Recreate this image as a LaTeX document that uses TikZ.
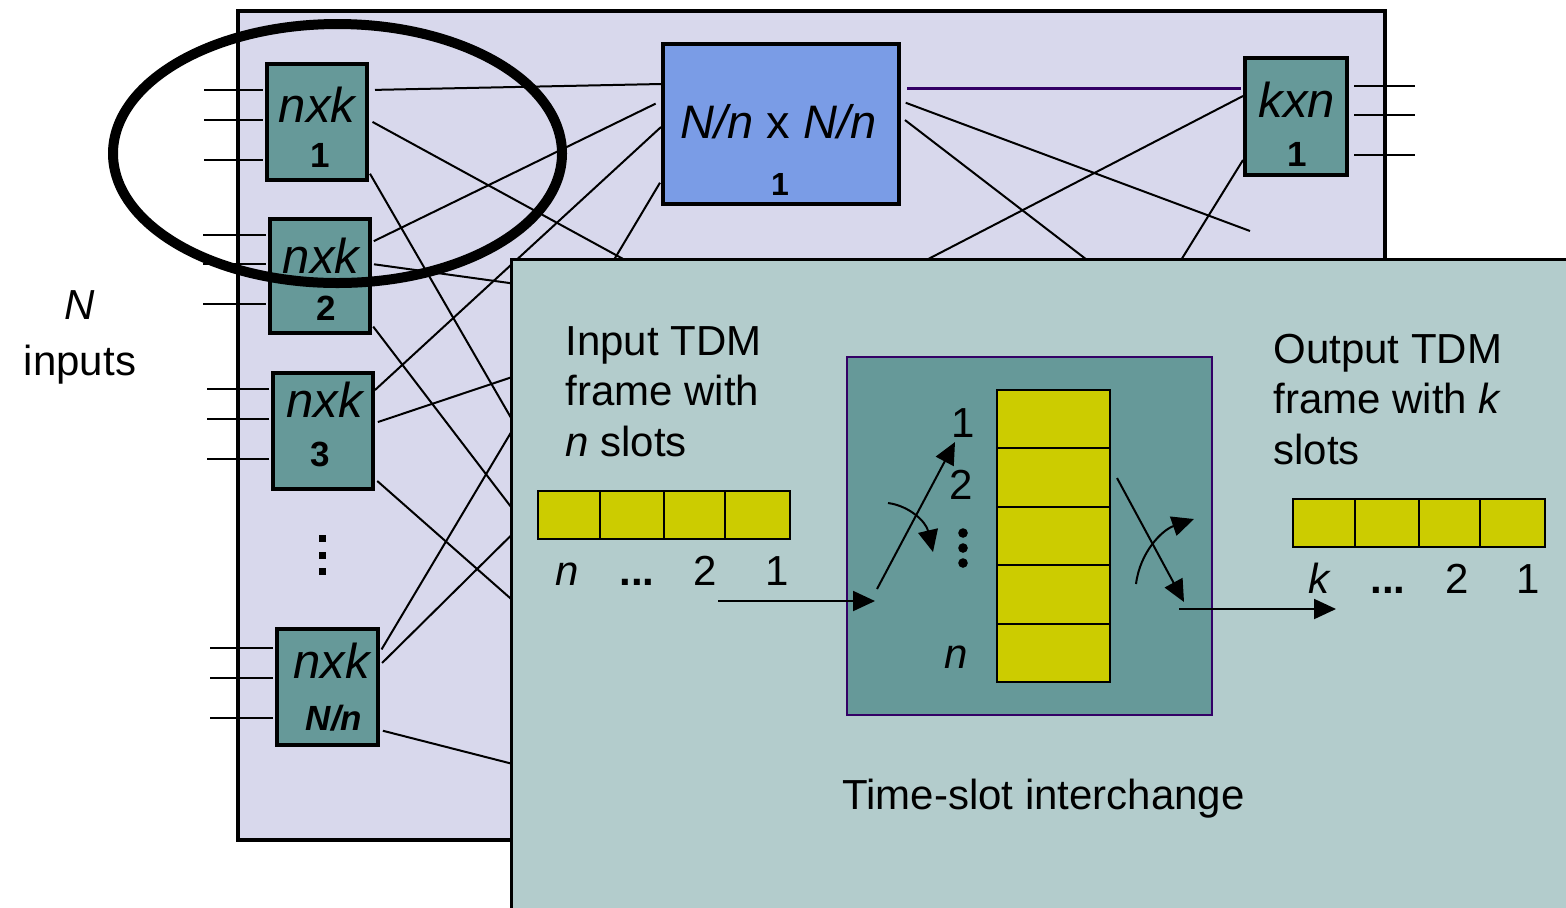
\documentclass[tikz,border=0pt]{standalone}
\usepackage{fontspec}
\setmainfont{Liberation Sans}
\usetikzlibrary{arrows.meta,calc,shapes.geometric}
\definecolor{lav}{RGB}{216,216,236}
\definecolor{tealbox}{RGB}{102,153,153}
\definecolor{blu}{RGB}{122,156,230}
\definecolor{ovl}{RGB}{179,204,204}
\definecolor{ylw}{RGB}{204,204,0}
\definecolor{purp}{RGB}{51,0,102}
\begin{document}
\begin{tikzpicture}[x=0.5pt,y=-0.5pt,
  sbox/.style={draw=black,line width=2pt,fill=tealbox,inner sep=0pt,minimum width=50pt,minimum height=58pt},
  wire/.style={line width=1pt},
  big/.style={font=\fontsize{21pt}{25pt}\selectfont,inner sep=0pt},
  lbl/.style={font=\fontsize{24.5pt}{28pt}\selectfont\itshape,inner sep=0pt,anchor=base},
  num/.style={font=\fontsize{17.5pt}{20pt}\selectfont\bfseries,inner sep=0pt,anchor=base},
  cell/.style={draw=black,line width=1pt,fill=ylw,inner sep=0pt},
  arr/.style={line width=1pt,-{Triangle[length=11pt,width=10pt]}},
]
\useasboundingbox (0,0) rectangle (1566,907);
\clip (0,0) rectangle (1566,907);

% outer frame
\node[draw=black,line width=2pt,fill=lav,minimum width=573.5pt,minimum height=414.5pt,inner sep=0pt] (frame) at (811.5,425.5) {};

% switch boxes
\node[sbox] (b1) at (317,122) {};
\node[sbox,minimum height=57pt] (b2) at (320,276) {};
\node[sbox] (b3) at (323,431) {};
\node[sbox,minimum width=50.5pt] (bN) at (327.5,687) {};
\node[draw=black,line width=2pt,fill=blu,inner sep=0pt,minimum width=118pt,minimum height=80pt] (mid) at (781,124) {};
\node[sbox,minimum width=51pt,minimum height=58.5pt] (kxn) at (1296,116.5) {};

% box labels
\node[lbl] (b1t) at (317,122) {nxk};
\node[num] (b1n) at (320,167) {1};
\node[lbl] (b2t) at (321,273) {nxk};
\node[num] (b2n) at (326,320) {2};
\node[lbl] (b3t) at (324.5,417) {nxk};
\node[num] (b3n) at (320,466) {3};
\node[lbl] (bNt) at (331.5,678) {nxk};
\node[num,font=\fontsize{17.5pt}{20pt}\selectfont\bfseries\itshape] (bNn) at (334,730) {N/n};
\node[lbl] (kxnt) at (1297,117) {kxn};
\node[num] (kxnn) at (1297,166) {1};
\node[inner sep=0pt,anchor=base,font=\fontsize{23.5pt}{28pt}\selectfont] (midt) at (778.5,138) {\textit{N/n} x \textit{N/n}};
\node[num,font=\fontsize{16pt}{20pt}\selectfont\bfseries] (midn) at (780,195) {1};

% vertical dots between input switches
\foreach \y [count=\i] in {538,555,571}
  \fill (318.5,\y-3.5) rectangle (325.5,\y+3.5);

% hidden / free ends
\coordinate (h1) at (700,301);
\coordinate (h2) at (540,468);
\coordinate (h3) at (560,290);
\coordinate (h4) at (560,571);
\coordinate (h5) at (560,361);
\coordinate (h6) at (560,642);
\coordinate (h7) at (560,487);
\coordinate (h8) at (560,776);
\coordinate (fr) at (1250,231);
\coordinate (h9) at (1130,293);
\coordinate (h10) at (880,284);
\coordinate (h11) at (1160,294);

% interconnection wires
\draw[wire,shorten <=3pt] (b1.east |- 0,90) -- (mid.west |- 0,84);
\draw[wire,shorten <=2pt] (b1.east |- 0,120) -- (h1);
\draw[wire,shorten <=1pt] (b1.east |- 0,172) -- (h2);
\draw[wire,shorten <=1pt,shorten >=3pt] (b2.east |- 0,242) -- (mid.west |- 0,101);
\draw[wire,shorten <=1pt] (b2.east |- 0,264) -- (h3);
\draw[wire,shorten <=1pt] (b2.east |- 0,325) -- (h4);
\draw[wire] (b3.east |- 0,390) -- (mid.west |- 0,127);
\draw[wire,shorten <=1.5pt] (b3.east |- 0,423) -- (h5);
\draw[wire,shorten <=1.5pt] (b3.east |- 0,479) -- (h6);
\draw[wire,shorten <=1.5pt,shorten >=1pt] (bN.east |- 0,652) -- (mid.west |- 0,181);
\draw[wire,shorten <=1.5pt] (bN.east |- 0,665) -- (h7);
\draw[wire,shorten <=1.5pt] (bN.east |- 0,730) -- (h8);
\draw[wire,shorten <=2.5pt] (mid.east |- 0,101) -- (fr);
\draw[wire,shorten <=2.5pt] (mid.east |- 0,117) -- (h9);
\draw[wire] (kxn.west |- 0,96) -- (h10);
\draw[wire] (kxn.west |- 0,160) -- (h11);
\draw[line width=1.5pt,draw=purp,shorten <=3pt,shorten >=1pt] (mid.east |- 0,88) -- (kxn.west |- 0,88);

% input stubs
\foreach \b/\x/\ya/\yb/\yc in {b1/204/90/120/160, b2/203/235/264/304, b3/207/389/419/459, bN/210/648/678/718}{
  \foreach \y [count=\i] in {\ya,\yb,\yc}{
    \coordinate (\b in\i) at (\x,\y);
    \draw[wire,shorten >=1pt] (\b in\i) -- (\b.west |- \b in\i);
  }
}
% output stubs
\foreach \y [count=\i] in {86,115,155}{
  \coordinate (kout\i) at (1415,\y);
  \draw[wire,shorten <=2.5pt] (kxn.east |- kout\i) -- (kout\i);
}

% N inputs label
\node[big,anchor=base] (nN) at (80,319) {\textit{N}};
\node[big,anchor=base] (nin) at (80,375) {inputs};

% grouping ellipse
\node[draw=black,ellipse,line width=5pt,inner sep=0pt,minimum width=224.5pt,minimum height=129.5pt] (grp) at (337.5,153.5) {};

% overlay panel
\node[draw=black,line width=1.5pt,fill=ovl,minimum width=534.5pt,minimum height=330.5pt,inner sep=0pt] (ov) at (1045.5,589.5) {};

% texts in overlay
\node[big,anchor=base west] (it1) at (565,355) {Input TDM};
\node[big,anchor=base west] (it2) at (565,405) {frame with};
\node[big,anchor=base west] (it3) at (565,456) {\textit{n} slots};
\node[big,anchor=base west] (ot1) at (1273,363) {Output TDM};
\node[big,anchor=base west] (ot2) at (1273,413) {frame with \textit{k}};
\node[big,anchor=base west] (ot3) at (1273,464) {slots};
\node[big,anchor=base west] (tsl) at (842,809) {Time-slot interchange};

% input frame
\node[cell,minimum width=31pt,minimum height=24pt] (fi4) at (569,515) {};
\node[cell,minimum width=32pt,minimum height=24pt] (fi3) at (632,515) {};
\node[cell,minimum width=30.5pt,minimum height=24pt] (fi2) at (694.5,515) {};
\node[cell,minimum width=32.5pt,minimum height=24pt] (fi1) at (757.5,515) {};
\node[big,anchor=base] (li4) at (567,585) {\textit{n}};
\node[big,anchor=base] (li3) at (637,585) {\textbf{...}};
\node[big,anchor=base] (li2) at (705,585) {2};
\node[big,anchor=base] (li1) at (777,585) {1};

% output frame
\node[cell,minimum width=31pt,minimum height=24pt] (fo4) at (1324,523) {};
\node[cell,minimum width=32pt,minimum height=24pt] (fo3) at (1387,523) {};
\node[cell,minimum width=30.5pt,minimum height=24pt] (fo2) at (1449.5,523) {};
\node[cell,minimum width=32.5pt,minimum height=24pt] (fo1) at (1512.5,523) {};
\node[big,anchor=base] (lo4) at (1320,593) {\textit{k}};
\node[big,anchor=base] (lo3) at (1388,593) {\textbf{...}};
\node[big,anchor=base] (lo2) at (1457,593) {2};
\node[big,anchor=base] (lo1) at (1528,593) {1};

% time slot interchanger
\node[draw=purp,line width=1pt,fill=tealbox,minimum width=182.5pt,minimum height=179pt,inner sep=0pt] (tsi) at (1029.5,536) {};
\foreach \y [count=\i] in {419.2,477.6,536,594.4,652.8}
  \node[cell,minimum width=56.5pt,minimum height=29.2pt] (c\i) at (1053.5,\y) {};
\node[big,anchor=base] (t1) at (963,437) {1};
\node[big,anchor=base] (t2) at (961,499) {2};
\node[big,anchor=base] (tn) at (956,668) {\textit{n}};
\foreach \y in {533,548,563}
  \fill (963,\y) circle (2.4pt);

% arrows
\coordinate (ia) at (718,601);
\coordinate (ib) at (875,601);
\draw[arr] (ia) -- (ib);
\coordinate (s1a) at (877,589);
\coordinate (s1b) at (955,442);
\draw[arr] (s1a) -- (s1b);
\coordinate (r1a) at (888,503);
\coordinate (r1b) at (933,552);
\draw[arr] (r1a) .. controls (910,506) and (926,522) .. (r1b);
\coordinate (s2a) at (1117,478);
\coordinate (s2b) at (1184,602);
\draw[arr] (s2a) -- (s2b);
\coordinate (r2a) at (1136,584);
\coordinate (r2b) at (1194,519);
\draw[arr] (r2a) .. controls (1140,552) and (1162,530) .. (r2b);
\coordinate (oa) at (1179,609);
\coordinate (ob) at (1336,609);
\draw[arr] (oa) -- (ob);
\end{tikzpicture}
\end{document}
